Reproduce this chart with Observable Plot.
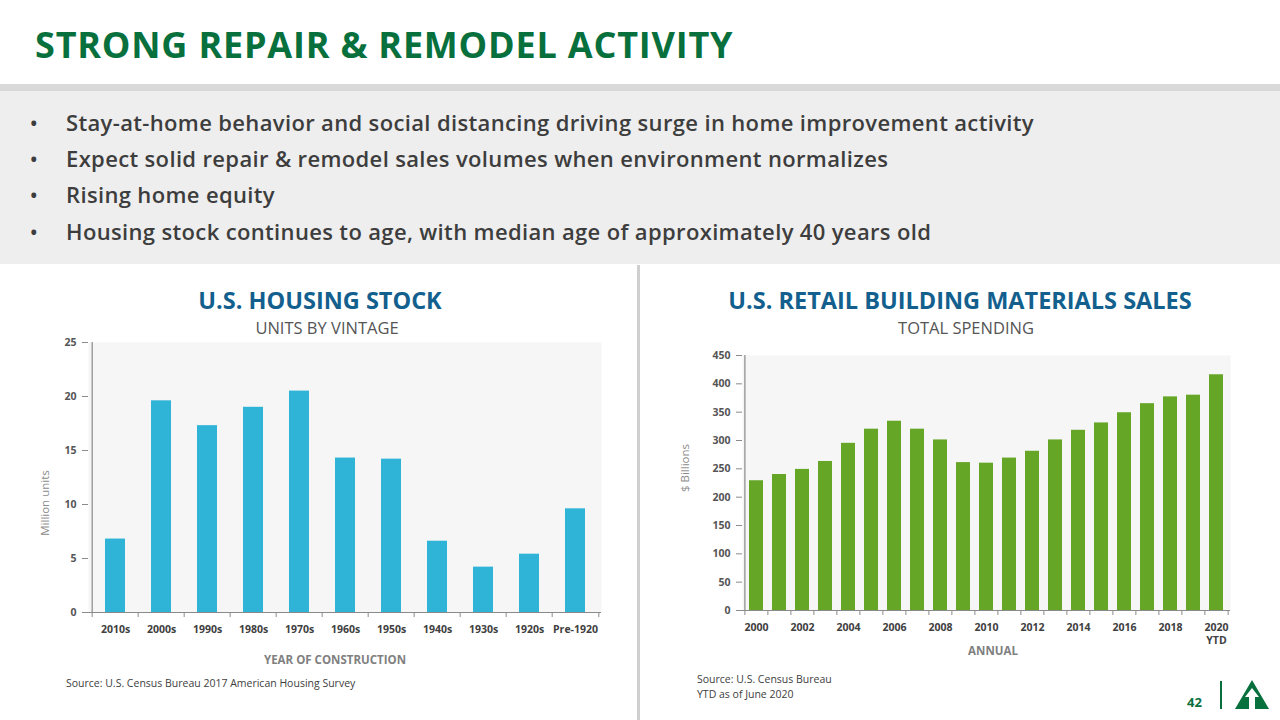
<!DOCTYPE html>
<html>
<head>
<meta charset="utf-8">
<script src="https://cdn.jsdelivr.net/npm/d3@7"></script>
<script src="https://cdn.jsdelivr.net/npm/@observablehq/plot@0.6"></script>
<style>
  html, body { margin: 0; padding: 0; }
  body { width: 1280px; height: 720px; position: relative; overflow: hidden; background: #fff; font-family: "Open Sans", "Noto Sans", sans-serif; }
  .abs { position: absolute; white-space: nowrap; }
  #title { left: 35px; top: 20px; font-size: 36px; font-weight: 700; color: #08703d; letter-spacing: 0.8px; }
  #band { left: 0; top: 84px; width: 1280px; height: 7px; background: #d9d9d9; }
  #panel { left: 0; top: 91px; width: 1280px; height: 173px; background: #eeeeee; }
  .bullet { left: 30px; font-size: 22px; font-weight: 600; color: #3d3d3d; letter-spacing: 0.35px; }
  .bullet span.dot { display: inline-block; width: 36px; font-size: 20px; }
  #divider { left: 637px; top: 265px; width: 3px; height: 455px; background: #cfcfcf; }
  .ctitle { font-size: 23.5px; font-weight: 700; color: #135f8e; transform: translateX(-50%); }
  .csub { font-size: 16.5px; font-weight: 400; color: #555; transform: translateX(-50%); }
  .axtitle { font-size: 11.5px; font-weight: 700; color: #808080; transform: translateX(-50%); }
  .ylab { font-size: 11.5px; color: #8c8c8c; transform: translate(-50%, -50%) rotate(-90deg); }
  .src { font-size: 10.5px; color: #404040; }
  #page { left: 1187px; top: 693px; font-size: 13px; font-weight: 700; color: #08703d; }
  #vbar { left: 1220px; top: 681px; width: 2px; height: 28px; background: #08703d; }
  #chart1 { left: 0; top: 330px; }
  #chart2 { left: 640px; top: 340px; }
</style>
</head>
<body>
<div id="title" class="abs">STRONG REPAIR &amp; REMODEL ACTIVITY</div>
<div id="band" class="abs"></div>
<div id="panel" class="abs"></div>
<div class="abs bullet" style="top:107px"><span class="dot">•</span>Stay-at-home behavior and social distancing driving surge in home improvement activity</div>
<div class="abs bullet" style="top:143px"><span class="dot">•</span>Expect solid repair &amp; remodel sales volumes when environment normalizes</div>
<div class="abs bullet" style="top:179px"><span class="dot">•</span>Rising home equity</div>
<div class="abs bullet" style="top:216px"><span class="dot">•</span>Housing stock continues to age, with median age of approximately 40 years old</div>
<div id="divider" class="abs"></div>

<div class="abs ctitle" style="left:320px; top:284px">U.S. HOUSING STOCK</div>
<div class="abs csub" style="left:327px; top:316px">UNITS BY VINTAGE</div>
<div class="abs ctitle" style="left:960px; top:284px">U.S. RETAIL BUILDING MATERIALS SALES</div>
<div class="abs csub" style="left:966px; top:316px">TOTAL SPENDING</div>

<div id="chart1" class="abs"></div>
<div id="chart2" class="abs"></div>

<div class="abs ylab" style="left:44px; top:503px">Million units</div>
<div class="abs ylab" style="left:684px; top:468px">$ Billions</div>
<div class="abs axtitle" style="left:335px; top:652px">YEAR OF CONSTRUCTION</div>
<div class="abs axtitle" style="left:993px; top:643px">ANNUAL</div>

<div class="abs src" style="left:66px; top:676px">Source: U.S. Census Bureau 2017 American Housing Survey</div>
<div class="abs src" style="left:697px; top:672px">Source: U.S. Census Bureau</div>
<div class="abs src" style="left:697px; top:687px">YTD as of June 2020</div>

<div id="page" class="abs">42</div>
<div id="vbar" class="abs"></div>
<svg class="abs" style="left:1234px; top:679px" width="36" height="31" viewBox="0 0 36 31">
  <polygon points="18,1 35,30 1,30" fill="#08703d"/>
  <polygon points="18,9 25,18 21,18 21,30 15,30 15,18 11,18" fill="#ffffff"/>
</svg>

<script>
// ---- Data: U.S. housing stock by vintage (million units)
const vintages = ["2010s", "2000s", "1990s", "1980s", "1970s", "1960s", "1950s", "1940s", "1930s", "1920s", "Pre-1920"];
const units = [6.8, 19.6, 17.3, 19.0, 20.5, 14.3, 14.2, 6.6, 4.2, 5.4, 9.6];
const unitTicks = [0, 5, 10, 15, 20, 25];

// ---- Data: U.S. retail building materials sales ($ billions)
const years = [2000, 2001, 2002, 2003, 2004, 2005, 2006, 2007, 2008, 2009, 2010, 2011, 2012, 2013, 2014, 2015, 2016, 2017, 2018, 2019, 2020];
const sales = [229, 240, 249, 263, 295, 320, 334, 320, 301, 261, 260, 269, 281, 301, 318, 331, 349, 365, 377, 380, 416];
const salesTicks = [0, 50, 100, 150, 200, 250, 300, 350, 400, 450];
const yearLabels = ["2000", "", "2002", "", "2004", "", "2006", "", "2008", "", "2010", "", "2012", "", "2014", "", "2016", "", "2018", "", "2020\nYTD"];

const axisGray = "#8a8a8a";
const textGray = "#555555";

function barChart({cats, vals, yDomain, yTicks, tickLabels, color, width, height, mL, mR, mT, mB, pad, tickLen, xPad}) {
  const table = cats.map((c, i) => ({c, v: vals[i]}));
  const step = (width - mL - mR) / cats.length;
  const k = (yDomain[1] - yDomain[0]) / (height - mT - mB); // data units per px
  return Plot.plot({
    width, height,
    marginLeft: mL, marginRight: mR, marginTop: mT, marginBottom: mB,
    style: {fontFamily: "'Open Sans', 'Noto Sans', sans-serif", fontSize: "10.5px", fontWeight: 700, background: "transparent", overflow: "visible"},
    x: {domain: cats, paddingInner: pad, paddingOuter: pad / 2},
    y: {domain: yDomain},
    marks: [
      Plot.frame({fill: "#f6f6f6", stroke: "none"}),
      Plot.barY(table, {x: "c", y: "v", fill: color}),
      Plot.ruleY([0], {stroke: axisGray, strokeWidth: 1.2}),
      Plot.ruleX([cats[0]], {dx: -step / 2, y1: yDomain[0], y2: yDomain[1], stroke: axisGray, strokeWidth: 1.2}),
      Plot.ruleX(cats, {x: d => d, dx: -step / 2, y1: 0, y2: -tickLen * k, stroke: axisGray}),
      Plot.ruleX([cats[cats.length - 1]], {dx: step / 2, y1: 0, y2: -tickLen * k, stroke: axisGray}),
      Plot.axisX({tickSize: 0, tickPadding: xPad, fill: "#404040", label: null, lineHeight: 1.25,
        tickFormat: (d) => tickLabels[cats.indexOf(d)]}),
      Plot.axisY({ticks: yTicks, tickSize: 6, tickPadding: 6, stroke: axisGray, fill: textGray, label: null})
    ]
  });
}

document.getElementById("chart1").appendChild(barChart({
  cats: vintages, vals: units, yDomain: [0, 25], yTicks: unitTicks, tickLabels: vintages,
  color: "#2fb3d7", width: 620, height: 312, mL: 88, mR: 19, mT: 12, mB: 30, pad: 0.57, tickLen: 5, xPad: 11
}));

document.getElementById("chart2").appendChild(barChart({
  cats: years, vals: sales, yDomain: [0, 450], yTicks: salesTicks, tickLabels: yearLabels,
  color: "#66a627", width: 640, height: 315, mL: 102, mR: 50, mT: 15, mB: 45, pad: 0.4, tickLen: 5, xPad: 11
}));
</script>
</body>
</html>
